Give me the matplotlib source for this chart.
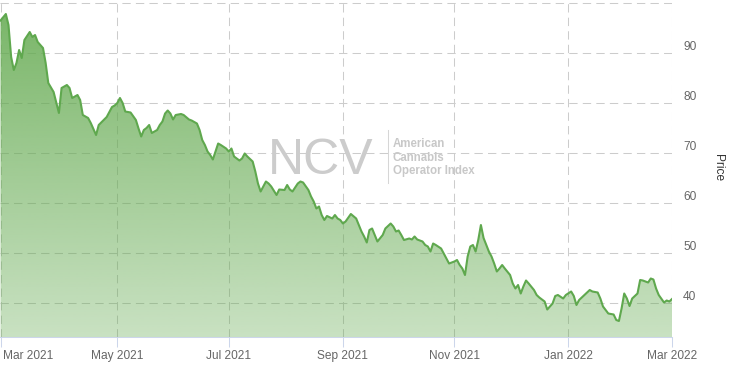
import numpy as np
import pandas as pd
import matplotlib
matplotlib.use("Agg")
import matplotlib.pyplot as plt
from matplotlib.lines import Line2D
from matplotlib.transforms import ScaledTranslation

plt.rcParams['font.family'] = ['Liberation Sans', 'DejaVu Sans']

# Market holidays skipped by the ordinal (trading day) axis
holidays = ['2021-04-02', '2021-05-31', '2021-07-05', '2021-09-06',
            '2021-11-25', '2021-12-24', '2022-01-17', '2022-02-21']

dates = [
    '2021-03-01', '2021-03-03', '2021-03-04', '2021-03-05', '2021-03-08', '2021-03-09',
    '2021-03-10', '2021-03-11', '2021-03-12', '2021-03-16', '2021-03-17', '2021-03-18',
    '2021-03-19', '2021-03-23', '2021-03-24', '2021-03-25', '2021-03-29', '2021-03-31',
    '2021-04-01', '2021-04-06', '2021-04-07', '2021-04-08', '2021-04-12', '2021-04-13',
    '2021-04-14', '2021-04-16', '2021-04-19', '2021-04-21', '2021-04-22', '2021-04-27',
    '2021-04-29', '2021-04-30', '2021-05-03', '2021-05-04', '2021-05-05', '2021-05-06',
    '2021-05-10', '2021-05-12', '2021-05-13', '2021-05-14', '2021-05-17', '2021-05-18',
    '2021-05-19', '2021-05-20', '2021-05-24', '2021-05-25', '2021-05-26', '2021-05-27',
    '2021-05-28', '2021-06-01', '2021-06-02', '2021-06-03', '2021-06-07', '2021-06-08',
    '2021-06-10', '2021-06-11', '2021-06-15', '2021-06-16', '2021-06-17', '2021-06-18',
    '2021-06-21', '2021-06-22', '2021-06-23', '2021-06-25', '2021-06-28', '2021-06-30',
    '2021-07-01', '2021-07-02', '2021-07-06', '2021-07-08', '2021-07-09', '2021-07-12',
    '2021-07-13', '2021-07-15', '2021-07-16', '2021-07-19', '2021-07-20', '2021-07-22',
    '2021-07-23', '2021-07-26', '2021-07-28', '2021-07-29', '2021-08-02', '2021-08-03',
    '2021-08-04', '2021-08-05', '2021-08-09', '2021-08-10', '2021-08-11', '2021-08-13',
    '2021-08-16', '2021-08-17', '2021-08-18', '2021-08-19', '2021-08-20', '2021-08-23',
    '2021-08-24', '2021-08-26', '2021-08-27', '2021-08-30', '2021-08-31', '2021-09-01',
    '2021-09-02', '2021-09-07', '2021-09-09', '2021-09-10', '2021-09-13', '2021-09-14',
    '2021-09-15', '2021-09-16', '2021-09-17', '2021-09-21', '2021-09-23', '2021-09-24',
    '2021-09-28', '2021-09-29', '2021-09-30', '2021-10-01', '2021-10-04', '2021-10-05',
    '2021-10-07', '2021-10-08', '2021-10-11', '2021-10-12', '2021-10-14', '2021-10-15',
    '2021-10-18', '2021-10-19', '2021-10-20', '2021-10-21', '2021-10-25', '2021-10-26',
    '2021-10-27', '2021-10-28', '2021-11-01', '2021-11-02', '2021-11-03', '2021-11-04',
    '2021-11-05', '2021-11-08', '2021-11-09', '2021-11-10', '2021-11-11', '2021-11-12',
    '2021-11-15', '2021-11-16', '2021-11-18', '2021-11-19', '2021-11-22', '2021-11-23',
    '2021-11-24', '2021-11-26', '2021-11-29', '2021-12-01', '2021-12-02', '2021-12-03',
    '2021-12-06', '2021-12-07', '2021-12-08', '2021-12-09', '2021-12-10', '2021-12-14',
    '2021-12-15', '2021-12-16', '2021-12-20', '2021-12-21', '2021-12-23', '2021-12-27',
    '2021-12-28', '2021-12-30', '2021-12-31', '2022-01-04', '2022-01-05', '2022-01-06',
    '2022-01-07', '2022-01-11', '2022-01-13', '2022-01-14', '2022-01-19', '2022-01-20',
    '2022-01-21', '2022-01-25', '2022-01-27', '2022-01-28', '2022-01-31', '2022-02-01',
    '2022-02-02', '2022-02-03', '2022-02-04', '2022-02-07', '2022-02-09', '2022-02-10',
    '2022-02-11', '2022-02-15', '2022-02-16', '2022-02-17', '2022-02-18', '2022-02-22',
    '2022-02-24', '2022-02-25', '2022-02-28', '2022-03-01',
]

prices = [
    96.5, 97.8, 95.6, 89.2, 86.6, 88.0,
    90.6, 89.0, 92.6, 94.2, 93.2, 93.6,
    92.2, 91.0, 88.0, 84.0, 82.2, 78.0,
    83.0, 83.6, 83.0, 81.0, 81.6, 80.6,
    77.6, 77.0, 76.0, 73.6, 75.6, 77.2,
    79.2, 79.5, 80.0, 81.0, 80.0, 78.3,
    78.1, 76.6, 74.9, 73.3, 74.6, 75.0,
    75.6, 74.0, 74.6, 75.6, 76.3, 77.9,
    78.5, 77.9, 76.7, 77.6, 77.8, 77.6,
    76.7, 76.5, 75.9, 74.6, 72.6, 71.6,
    70.3, 69.6, 68.7, 71.9, 71.6, 70.9,
    70.3, 70.9, 69.3, 68.5, 68.9, 69.9,
    69.3, 68.3, 66.3, 63.9, 62.3, 64.3,
    63.9, 63.3, 61.6, 62.7, 62.6, 63.6,
    62.7, 62.3, 63.9, 64.3, 64.1, 62.6,
    61.3, 60.3, 58.9, 59.3, 57.6, 56.6,
    57.4, 56.9, 57.6, 56.9, 56.6, 55.9,
    56.3, 57.8, 56.9, 55.6, 54.3, 53.3,
    52.1, 54.6, 54.9, 52.3, 53.6, 54.9,
    55.9, 55.3, 54.3, 54.5, 53.6, 52.6,
    52.9, 52.7, 53.3, 52.7, 52.3, 51.6,
    51.3, 50.3, 51.9, 51.6, 50.9, 49.9,
    48.9, 47.9, 48.3, 48.6, 47.6, 46.9,
    45.6, 49.3, 51.3, 51.6, 50.3, 52.6,
    55.6, 53.0, 50.3, 49.3, 47.9, 46.3,
    46.9, 47.6, 46.9, 45.6, 43.9, 42.9,
    43.6, 41.9, 43.3, 44.5, 43.9, 42.6,
    41.6, 41.1, 40.3, 38.7, 39.9, 41.4,
    41.6, 40.9, 41.6, 42.3, 41.4, 39.6,
    40.6, 41.6, 42.6, 42.3, 42.1, 40.9,
    39.3, 37.9, 37.7, 36.6, 36.4, 38.9,
    41.9, 40.9, 39.4, 40.9, 41.9, 44.6,
    44.5, 44.1, 44.9, 44.7, 42.9, 41.6,
    40.1, 40.5, 40.3, 40.8,
]

y_ticks = [40, 50, 60, 70, 80, 90, 100]
y_min, y_max = 33.2, 100.6

# ordinal axis: one slot per trading day
days = pd.bdate_range('2021-03-01', '2022-03-01')
days = days[~days.isin(pd.to_datetime(holidays))]
pos = days.get_indexer(pd.to_datetime(dates))

idx = pd.Series(np.arange(len(days)), index=days)
month_first = idx.groupby([days.year, days.month]).first().values
tick_pos = month_first[::2]
tick_labels = [days[p].strftime('%b %Y') for p in tick_pos]

fig = plt.figure(figsize=(7.3, 3.69), dpi=100)
ax = fig.add_axes([0, 32 / 369, 672 / 730, 337 / 369])
x_lo, x_hi = -0.2, len(days) - 1

# gradient area fill
green = np.array([100, 170, 80]) / 255
grad = np.zeros((256, 1, 4))
grad[:, 0, :3] = green
grad[:, 0, 3] = np.linspace(0.88, 0.35, 256)
im = ax.imshow(grad, extent=[x_lo, x_hi, y_min, y_max], aspect='auto',
               origin='upper', zorder=1, interpolation='bilinear')
poly = ax.fill_between(pos, prices, y_min, facecolor='none', edgecolor='none')
im.set_clip_path(poly.get_paths()[0], transform=ax.transData)

ax.plot(pos, prices, color='#5fa84e', lw=1.5, zorder=3, solid_joinstyle='round')

ax.set_xlim(x_lo, x_hi)
ax.set_ylim(y_min, y_max)

ax.grid(True, color='#cccccc', lw=0.75, ls=(0, (8, 5)))
ax.set_axisbelow(True)

for side in ['top', 'left', 'right']:
    ax.spines[side].set_visible(False)
ax.spines['bottom'].set_color('#ccd6eb')
ax.spines['bottom'].set_linewidth(0.75)

ax.yaxis.tick_right()
ax.set_yticks(y_ticks, [str(v) if v < 100 else '' for v in y_ticks])
ax.tick_params(axis='y', length=0, pad=8, labelsize=8.6, labelcolor='#666666')
for lab in ax.get_yticklabels():
    lab.set_transform(lab.get_transform() + ScaledTranslation(0, 0.07, fig.dpi_scale_trans))

ax.set_xticks(tick_pos, tick_labels)
ax.tick_params(axis='x', length=7.2, width=0.75, color='#ccd6eb', pad=2,
               labelsize=8.6, labelcolor='#666666')
first = ax.get_xticklabels()[0]
first.set_ha('left')
first.set_transform(first.get_transform() + ScaledTranslation(0.025, 0, fig.dpi_scale_trans))

fig.text(718 / 730, 1 - 168 / 369, 'Price', rotation=-90, ha='center', va='center',
         fontsize=8.6, color='#333333')

# watermark
fig.text(268 / 730, 1 - 174 / 369, 'NCV', fontsize=36, color='#cccccc',
         ha='left', va='baseline', zorder=4)
fig.add_artist(Line2D([388 / 730, 388 / 730], [1 - 130 / 369, 1 - 183 / 369],
                      color='#d6d6d6', lw=0.75))
for txt, base in [('American', 147), ('Cannabis', 161), ('Operator Index', 174)]:
    fig.text(393 / 730, 1 - base / 369, txt, fontsize=8.3, fontweight='bold',
             color='#c8c8c8', ha='left', va='baseline')

fig.savefig('out.png', dpi=100)
